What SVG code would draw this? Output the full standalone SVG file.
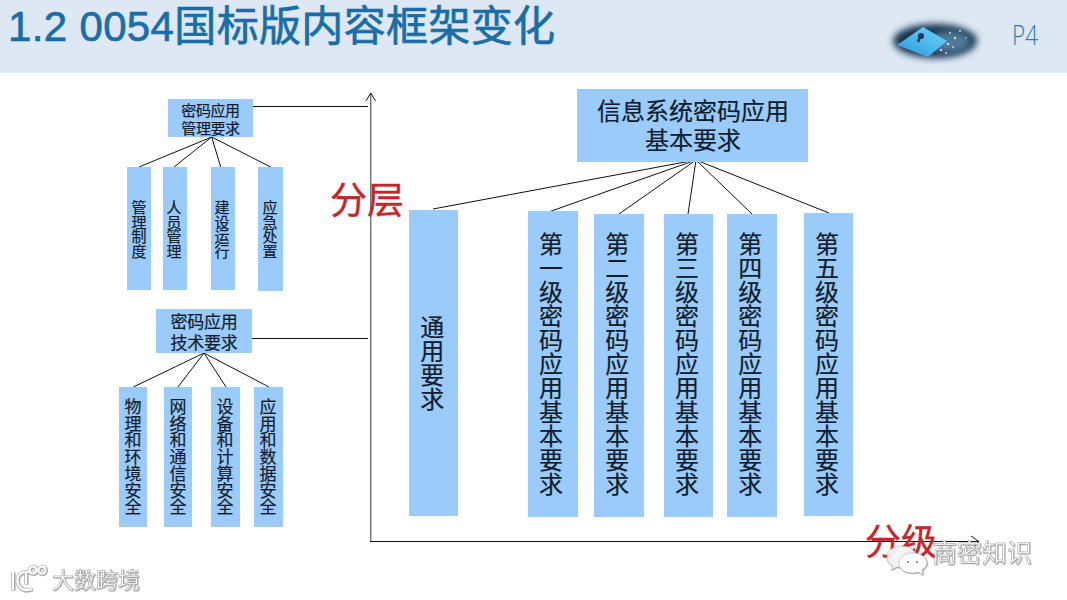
<svg xmlns="http://www.w3.org/2000/svg" width="1067" height="600" viewBox="0 0 1067 600">
<defs>
<linearGradient id="lock" x1="0" y1="1" x2="1" y2="0"><stop offset="0" stop-color="#2a96dc"/><stop offset="1" stop-color="#70d6f8"/></linearGradient>
<filter id="blur" x="-30%" y="-50%" width="160%" height="200%"><feGaussianBlur stdDeviation="3.500"/></filter>
<filter id="soft" x="-10%" y="-10%" width="120%" height="120%"><feGaussianBlur stdDeviation="0.6"/></filter>
<filter id="glow" x="-10%" y="-30%" width="120%" height="160%"><feDropShadow dx="0.500" dy="0.500" stdDeviation="0.700" flood-color="#777"/></filter>
</defs>
<style>
text{font-family:"Liberation Sans","Noto Sans CJK SC",sans-serif}
.box{fill:#9acbfb;filter:url(#soft)}
.lbl{fill:#101c2a;stroke:#101c2a;stroke-width:.2;text-anchor:middle}
.v{writing-mode:vertical-rl;text-anchor:middle;fill:#101c2a;stroke:#101c2a;stroke-width:.2;dominant-baseline:central}
.s{font-size:15px;letter-spacing:-.4px}.t{font-size:17px;letter-spacing:-.3px}.m{font-size:24px}.h{font-size:24px}
.n{font-family:"Noto Sans CJK SC",sans-serif}
.c{stroke:#111;stroke-width:1;fill:none}
.red{fill:#c3272b;stroke:#c3272b;stroke-width:.4}
.wm{fill:#fff;stroke:#a8a8a8;stroke-width:.5}
</style>
<rect width="1067" height="600" fill="#fff"/>
<g id="header">
<rect width="1067" height="73" fill="#dde8f4"/>
<text x="8" y="41" fill="#1a6ea8" font-size="42" letter-spacing=".35" stroke="#1a6ea8" stroke-width=".7">1.2 0054国标版内容框架变化</text>
<ellipse cx="935" cy="41" rx="42" ry="17" fill="#16324f" filter="url(#blur)"/>
<ellipse cx="950" cy="42" rx="20" ry="11" fill="#4f7a99" filter="url(#blur)"/>
<path d="M897 45L923 27L947 41L928 57Z" fill="url(#lock)"/>
<circle cx="921" cy="36" r="3" fill="#123a5c"/><path d="M920 37L918 42" stroke="#123a5c" stroke-width="2.500"/>
<g fill="#c6d8e6"><circle cx="950" cy="33" r="1"/><circle cx="955" cy="38" r="1.200"/><circle cx="948" cy="44" r="1.300"/><circle cx="941" cy="50" r="1.200"/><circle cx="960" cy="31" r="1"/><circle cx="946" cy="53" r="1"/><circle cx="953" cy="47" r="1"/><circle cx="966" cy="38" r=".8"/></g>
<text x="1012" y="45" fill="#2f78a8" font-size="27" textLength="26" lengthAdjust="spacingAndGlyphs" style="font-family:'Open Sans',sans-serif;font-weight:300">P4</text>
</g>
<g id="connectors">
<path d="M370.700 542V93" stroke="#777" stroke-width="1.500" fill="none"/>
<path class="c" d="M366 101L370.700 93L375.500 101"/>
<path class="c" d="M370 541.500H978"/>
<path class="c" d="M971 536L979 541.500L972 549"/>
<path class="c" d="M253 106.500H368"/>
<path class="c" d="M252 338.500H368"/>
<path class="c" d="M211.700 137L139 167M211.700 137L174 167M211.700 137L220.700 167M211.700 137L270.700 167"/>
<path class="c" d="M204 353L133.300 387M204 353L178 387M204 353L226 387M204 353L269 387"/>
<path class="c" d="M696 160L433 209M696 160L545.700 213M696 160L619 214M696 160L688 214M696 160L752 214M696 160L829 213"/>
</g>
<g id="root"><rect class="box" x="577" y="89" width="231" height="73"/><text class="lbl h" x="693" y="120">信息系统密码应用</text><text class="lbl h" x="693" y="149">基本要求</text></g>
<g id="mgmt"><rect class="box" x="168" y="99" width="85" height="38"/><text class="lbl s" x="210.500" y="116">密码应用</text><text class="lbl s" x="210.500" y="134">管理要求</text></g>
<g id="m1"><rect class="box" x="127" y="167" width="24" height="123"/><text class="v s n" x="139" y="229">管理制度</text></g>
<g id="m2"><rect class="box" x="163" y="167" width="24" height="123"/><text class="v s n" x="174" y="229">人员管理</text></g>
<g id="m3"><rect class="box" x="211" y="167" width="24" height="123"/><text class="v s n" x="222" y="229">建设运行</text></g>
<g id="m4"><rect class="box" x="258" y="167" width="25" height="124"/><text class="v s n" x="270" y="229">应急处置</text></g>
<g id="tech"><rect class="box" x="156" y="309" width="96" height="44"/><text class="lbl t" x="204" y="328">密码应用</text><text class="lbl t" x="204" y="349">技术要求</text></g>
<g id="t1"><rect class="box" x="119" y="387" width="28" height="140"/><text class="v t n" x="133" y="456.500">物理和环境安全</text></g>
<g id="t2"><rect class="box" x="164" y="387" width="28" height="140"/><text class="v t n" x="178" y="456.500">网络和通信安全</text></g>
<g id="t3"><rect class="box" x="211" y="387" width="29" height="140"/><text class="v t n" x="225" y="456.500">设备和计算安全</text></g>
<g id="t4"><rect class="box" x="254" y="387" width="29" height="140"/><text class="v t n" x="268" y="456.500">应用和数据安全</text></g>
<g id="general"><rect class="box" x="409" y="210" width="49" height="306"/><text class="v m" x="430.300" y="363">通用要求</text></g>
<g id="l1"><rect class="box" x="528" y="211" width="50" height="306"/><text class="v m" x="549" y="363.500">第一级密码应用基本要求</text></g>
<g id="l2"><rect class="box" x="594" y="214" width="50" height="303"/><text class="v m" x="615.300" y="363.500">第二级密码应用基本要求</text></g>
<g id="l3"><rect class="box" x="664" y="214" width="49" height="303"/><text class="v m" x="685" y="363.500">第三级密码应用基本要求</text></g>
<g id="l4"><rect class="box" x="727" y="214" width="50" height="303"/><text class="v m" x="748.300" y="363.500">第四级密码应用基本要求</text></g>
<g id="l5"><rect class="box" x="804" y="213" width="49" height="303"/><text class="v m" x="825" y="363.500">第五级密码应用基本要求</text></g>
<g id="axis-labels">
<text class="red" x="330" y="214" font-size="37">分层</text>
<text class="red" x="865" y="555" font-size="36">分级</text>
</g>
<g id="watermarks" filter="url(#glow)">
<path class="wm" d="M901 546C893 546 887 551 887 557C887 561 889 564 893 566L891 570L897 567C906 569 916 564 916 556C916 550 909 546 901 546Z" fill-opacity=".85"/>
<path class="wm" d="M913 553C905 553 899 558 899 563C899 569 905 573 912 573C914 573 916 573 918 572L923 575L922 570C925 568 927 566 927 563C927 558 921 553 913 553Z"/>
<g fill="#777"><circle cx="908" cy="562" r="1"/><circle cx="917" cy="562" r="1"/></g>
<text class="wm" x="932" y="562" font-size="25">商密知识</text>
<g fill="none" stroke="#bdbdbd" stroke-width="3.500"><path d="M13 572V590"/><path d="M30 572C19 570 16 578 18 584C20 590 27 591 32 589"/><path d="M26 572V584"/><circle cx="33" cy="570" r="3.500"/><circle cx="42" cy="570" r="3.500"/></g>
<g fill="none" stroke="#fff" stroke-width="2"><path d="M13 572V590"/><path d="M30 572C19 570 16 578 18 584C20 590 27 591 32 589"/><path d="M26 572V584"/><circle cx="33" cy="570" r="3.500"/><circle cx="42" cy="570" r="3.500"/></g>
<text class="wm" x="52" y="588" font-size="22">大数跨境</text>
</g>
</svg>
